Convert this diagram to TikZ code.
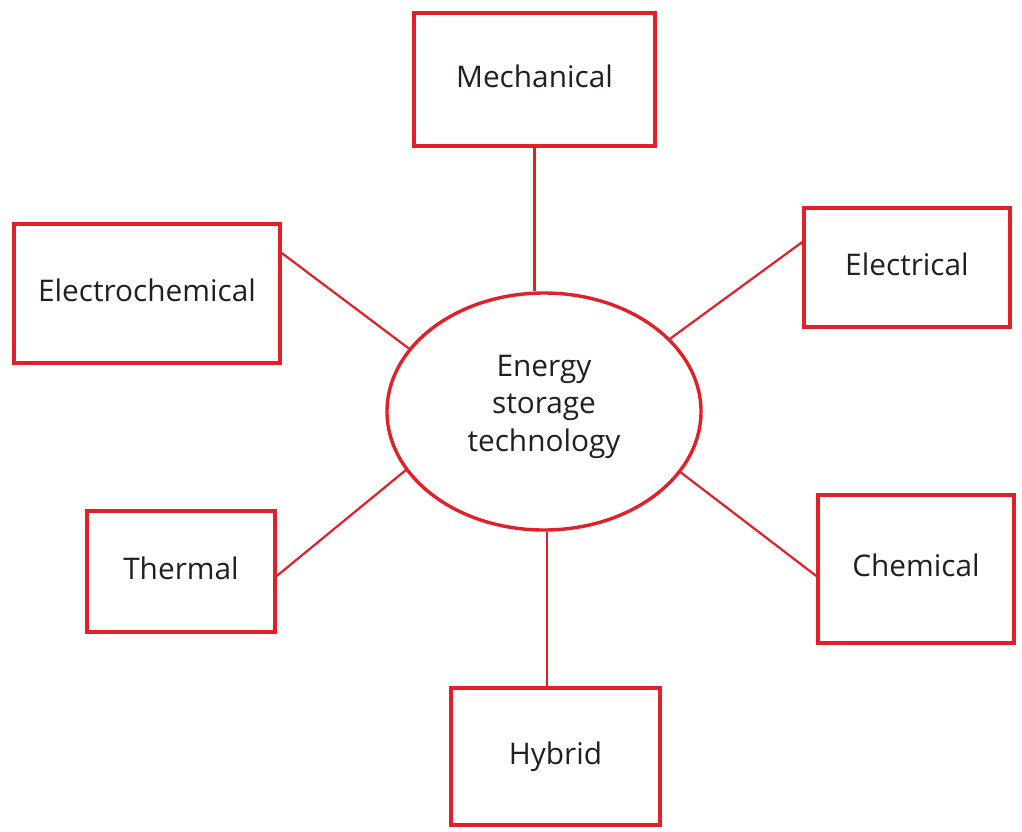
\documentclass[tikz,border=0pt]{standalone}
\usepackage{fontspec}
\setmainfont{Open Sans}
\usetikzlibrary{shapes.geometric}
\definecolor{boxred}{RGB}{226,32,40}
\definecolor{txt}{RGB}{35,31,32}
\tikzset{
  catbox/.style={draw=boxred, line width=3.4pt, rectangle, inner sep=0pt,
    text=txt, font=\fontsize{29.8}{37.5}\selectfont,
    text height=22.6pt, text depth=7.4pt},
  hub/.style={draw=boxred, line width=3.4pt, ellipse, inner sep=0pt,
    minimum width=314pt, minimum height=237pt},
  hubtext/.style={text=txt, align=center, inner sep=0pt,
    font=\fontsize{29.8}{37.5}\selectfont},
  link/.style={draw=boxred, line width=2.2pt}
}
\begin{document}
\begin{tikzpicture}[x=1pt,y=-1pt]
\useasboundingbox (0,0) rectangle (1022,831);
\node[hub] (ell) at (544,411.5) {};
\node[hubtext] (elltext) at (544,406.5) {Energy\\storage\\technology};
\node[catbox, minimum width=241pt, minimum height=133pt] (mech) at (534.5,79.5) {Mechanical};
\node[catbox, minimum width=266pt, minimum height=139pt] (echem) at (147,293.5) {Electrochemical};
\node[catbox, minimum width=206pt, minimum height=119pt] (elec) at (907,267.5) {Electrical};
\node[catbox, minimum width=188pt, minimum height=121pt] (therm) at (181,571.5) {Thermal};
\node[catbox, minimum width=196pt, minimum height=148pt] (chem) at (916,569) {Chemical};
\node[catbox, minimum width=209pt, minimum height=137pt] (hyb) at (555.5,756.5) {Hybrid};
\draw[link] (mech.south) -- (mech.south |- ell.north);
\draw[link] ([yshift=40.5pt]echem.east) -- (ell.155.8);
\draw[link] ([yshift=25.5pt]elec.west) -- (ell.30.6);
\draw[link] ([yshift=-4.5pt]therm.east) -- (ell.203.3);
\draw[link] ([yshift=-7pt]chem.west) -- (ell.-24);
\draw[link] ([xshift=-8.5pt]hyb.north) -- ([xshift=-8.5pt]hyb.north |- ell.south);
\end{tikzpicture}
\end{document}
